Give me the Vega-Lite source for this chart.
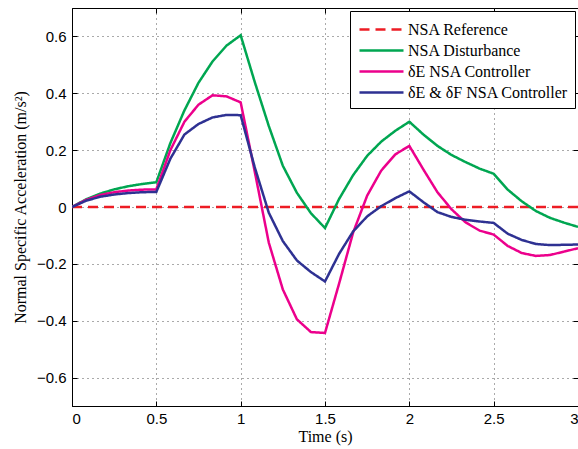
{
  "$schema": "https://vega.github.io/schema/vega-lite/v6.json",
  "width": 506,
  "height": 398,
  "autosize": {"type": "none"},
  "padding": {"left": 72, "top": 8, "right": 0, "bottom": 43},
  "background": "white",
  "config": {
    "view": {"stroke": "#000", "strokeWidth": 1},
    "axis": {
      "labelFont": "Liberation Sans", "labelFontSize": 15, "labelColor": "#000",
      "titleFont": "Liberation Serif", "titleFontSize": 16, "titleFontWeight": "normal", "titleColor": "#000",
      "domainColor": "#000", "tickColor": "#000",
      "gridColor": "#444", "gridDash": [1, 4], "gridWidth": 1, "gridOpacity": 0.9
    }
  },
  "datasets": {
    "lines": [
      {"t": 0, "v": 0, "s": "NSA Reference"},
      {"t": 3, "v": 0, "s": "NSA Reference"},
      {"t": 0, "v": 0, "s": "NSA Disturbance"},
      {"t": 0.0833, "v": 0.027, "s": "NSA Disturbance"},
      {"t": 0.1667, "v": 0.047, "s": "NSA Disturbance"},
      {"t": 0.25, "v": 0.062, "s": "NSA Disturbance"},
      {"t": 0.3333, "v": 0.073, "s": "NSA Disturbance"},
      {"t": 0.4167, "v": 0.081, "s": "NSA Disturbance"},
      {"t": 0.5, "v": 0.087, "s": "NSA Disturbance"},
      {"t": 0.5833, "v": 0.225, "s": "NSA Disturbance"},
      {"t": 0.6667, "v": 0.34, "s": "NSA Disturbance"},
      {"t": 0.75, "v": 0.437, "s": "NSA Disturbance"},
      {"t": 0.8333, "v": 0.512, "s": "NSA Disturbance"},
      {"t": 0.9167, "v": 0.568, "s": "NSA Disturbance"},
      {"t": 1.0, "v": 0.604, "s": "NSA Disturbance"},
      {"t": 1.0833, "v": 0.44, "s": "NSA Disturbance"},
      {"t": 1.1667, "v": 0.285, "s": "NSA Disturbance"},
      {"t": 1.25, "v": 0.145, "s": "NSA Disturbance"},
      {"t": 1.3333, "v": 0.05, "s": "NSA Disturbance"},
      {"t": 1.4167, "v": -0.022, "s": "NSA Disturbance"},
      {"t": 1.5, "v": -0.074, "s": "NSA Disturbance"},
      {"t": 1.5833, "v": 0.028, "s": "NSA Disturbance"},
      {"t": 1.6667, "v": 0.112, "s": "NSA Disturbance"},
      {"t": 1.75, "v": 0.18, "s": "NSA Disturbance"},
      {"t": 1.8333, "v": 0.23, "s": "NSA Disturbance"},
      {"t": 1.9167, "v": 0.268, "s": "NSA Disturbance"},
      {"t": 2.0, "v": 0.3, "s": "NSA Disturbance"},
      {"t": 2.0833, "v": 0.255, "s": "NSA Disturbance"},
      {"t": 2.1667, "v": 0.215, "s": "NSA Disturbance"},
      {"t": 2.25, "v": 0.183, "s": "NSA Disturbance"},
      {"t": 2.3333, "v": 0.158, "s": "NSA Disturbance"},
      {"t": 2.4167, "v": 0.135, "s": "NSA Disturbance"},
      {"t": 2.5, "v": 0.117, "s": "NSA Disturbance"},
      {"t": 2.5833, "v": 0.061, "s": "NSA Disturbance"},
      {"t": 2.6667, "v": 0.02, "s": "NSA Disturbance"},
      {"t": 2.75, "v": -0.014, "s": "NSA Disturbance"},
      {"t": 2.8333, "v": -0.038, "s": "NSA Disturbance"},
      {"t": 2.9167, "v": -0.055, "s": "NSA Disturbance"},
      {"t": 3.0, "v": -0.07, "s": "NSA Disturbance"},
      {"t": 0, "v": 0, "s": "δE NSA Controller"},
      {"t": 0.0833, "v": 0.025, "s": "δE NSA Controller"},
      {"t": 0.1667, "v": 0.042, "s": "δE NSA Controller"},
      {"t": 0.25, "v": 0.052, "s": "δE NSA Controller"},
      {"t": 0.3333, "v": 0.058, "s": "δE NSA Controller"},
      {"t": 0.4167, "v": 0.061, "s": "δE NSA Controller"},
      {"t": 0.5, "v": 0.062, "s": "δE NSA Controller"},
      {"t": 0.5833, "v": 0.2, "s": "δE NSA Controller"},
      {"t": 0.6667, "v": 0.3, "s": "δE NSA Controller"},
      {"t": 0.75, "v": 0.36, "s": "δE NSA Controller"},
      {"t": 0.8333, "v": 0.393, "s": "δE NSA Controller"},
      {"t": 0.9167, "v": 0.389, "s": "δE NSA Controller"},
      {"t": 1.0, "v": 0.368, "s": "δE NSA Controller"},
      {"t": 1.0833, "v": 0.125, "s": "δE NSA Controller"},
      {"t": 1.1667, "v": -0.125, "s": "δE NSA Controller"},
      {"t": 1.25, "v": -0.29, "s": "δE NSA Controller"},
      {"t": 1.3333, "v": -0.395, "s": "δE NSA Controller"},
      {"t": 1.4167, "v": -0.44, "s": "δE NSA Controller"},
      {"t": 1.5, "v": -0.443, "s": "δE NSA Controller"},
      {"t": 1.5833, "v": -0.27, "s": "δE NSA Controller"},
      {"t": 1.6667, "v": -0.09, "s": "δE NSA Controller"},
      {"t": 1.75, "v": 0.04, "s": "δE NSA Controller"},
      {"t": 1.8333, "v": 0.128, "s": "δE NSA Controller"},
      {"t": 1.9167, "v": 0.185, "s": "δE NSA Controller"},
      {"t": 2.0, "v": 0.215, "s": "δE NSA Controller"},
      {"t": 2.0833, "v": 0.132, "s": "δE NSA Controller"},
      {"t": 2.1667, "v": 0.052, "s": "δE NSA Controller"},
      {"t": 2.25, "v": -0.008, "s": "δE NSA Controller"},
      {"t": 2.3333, "v": -0.054, "s": "δE NSA Controller"},
      {"t": 2.4167, "v": -0.083, "s": "δE NSA Controller"},
      {"t": 2.5, "v": -0.097, "s": "δE NSA Controller"},
      {"t": 2.5833, "v": -0.137, "s": "δE NSA Controller"},
      {"t": 2.6667, "v": -0.162, "s": "δE NSA Controller"},
      {"t": 2.75, "v": -0.172, "s": "δE NSA Controller"},
      {"t": 2.8333, "v": -0.169, "s": "δE NSA Controller"},
      {"t": 2.9167, "v": -0.157, "s": "δE NSA Controller"},
      {"t": 3.0, "v": -0.145, "s": "δE NSA Controller"},
      {"t": 0, "v": 0, "s": "δE & δF NSA Controller"},
      {"t": 0.0833, "v": 0.022, "s": "δE & δF NSA Controller"},
      {"t": 0.1667, "v": 0.036, "s": "δE & δF NSA Controller"},
      {"t": 0.25, "v": 0.044, "s": "δE & δF NSA Controller"},
      {"t": 0.3333, "v": 0.049, "s": "δE & δF NSA Controller"},
      {"t": 0.4167, "v": 0.052, "s": "δE & δF NSA Controller"},
      {"t": 0.5, "v": 0.053, "s": "δE & δF NSA Controller"},
      {"t": 0.5833, "v": 0.17, "s": "δE & δF NSA Controller"},
      {"t": 0.6667, "v": 0.255, "s": "δE & δF NSA Controller"},
      {"t": 0.75, "v": 0.292, "s": "δE & δF NSA Controller"},
      {"t": 0.8333, "v": 0.315, "s": "δE & δF NSA Controller"},
      {"t": 0.9167, "v": 0.324, "s": "δE & δF NSA Controller"},
      {"t": 1.0, "v": 0.323, "s": "δE & δF NSA Controller"},
      {"t": 1.0833, "v": 0.14, "s": "δE & δF NSA Controller"},
      {"t": 1.1667, "v": -0.02, "s": "δE & δF NSA Controller"},
      {"t": 1.25, "v": -0.12, "s": "δE & δF NSA Controller"},
      {"t": 1.3333, "v": -0.188, "s": "δE & δF NSA Controller"},
      {"t": 1.4167, "v": -0.229, "s": "δE & δF NSA Controller"},
      {"t": 1.5, "v": -0.262, "s": "δE & δF NSA Controller"},
      {"t": 1.5833, "v": -0.165, "s": "δE & δF NSA Controller"},
      {"t": 1.6667, "v": -0.086, "s": "δE & δF NSA Controller"},
      {"t": 1.75, "v": -0.033, "s": "δE & δF NSA Controller"},
      {"t": 1.8333, "v": 0.003, "s": "δE & δF NSA Controller"},
      {"t": 1.9167, "v": 0.031, "s": "δE & δF NSA Controller"},
      {"t": 2.0, "v": 0.055, "s": "δE & δF NSA Controller"},
      {"t": 2.0833, "v": 0.017, "s": "δE & δF NSA Controller"},
      {"t": 2.1667, "v": -0.018, "s": "δE & δF NSA Controller"},
      {"t": 2.25, "v": -0.035, "s": "δE & δF NSA Controller"},
      {"t": 2.3333, "v": -0.045, "s": "δE & δF NSA Controller"},
      {"t": 2.4167, "v": -0.051, "s": "δE & δF NSA Controller"},
      {"t": 2.5, "v": -0.056, "s": "δE & δF NSA Controller"},
      {"t": 2.5833, "v": -0.094, "s": "δE & δF NSA Controller"},
      {"t": 2.6667, "v": -0.116, "s": "δE & δF NSA Controller"},
      {"t": 2.75, "v": -0.13, "s": "δE & δF NSA Controller"},
      {"t": 2.8333, "v": -0.134, "s": "δE & δF NSA Controller"},
      {"t": 2.9167, "v": -0.133, "s": "δE & δF NSA Controller"},
      {"t": 3.0, "v": -0.132, "s": "δE & δF NSA Controller"}
    ]
  },
  "data": {"name": "lines"},
  "layer": [
    {
      "mark": {"type": "line", "strokeWidth": 2.5, "clip": true},
      "encoding": {
        "x": {
          "field": "t", "type": "quantitative",
          "scale": {"domain": [0, 3], "nice": false, "zero": false},
          "axis": {"title": "Time (s)", "values": [0, 0.5, 1, 1.5, 2, 2.5, 3], "format": "~g",
                   "tickSize": -5, "labelPadding": 10, "titlePadding": 2, "grid": true}
        },
        "y": {
          "field": "v", "type": "quantitative",
          "scale": {"domain": [-0.7, 0.7], "nice": false, "zero": false},
          "axis": {"title": "Normal Specific Acceleration (m/s²)", "values": [-0.6, -0.4, -0.2, 0, 0.2, 0.4, 0.6], "format": "~g",
                   "tickSize": -5, "labelPadding": 11, "titlePadding": 8, "grid": true}
        },
        "color": {
          "field": "s", "type": "nominal",
          "scale": {
            "domain": ["NSA Reference", "NSA Disturbance", "δE NSA Controller", "δE & δF NSA Controller"],
            "range": ["#ed1c24", "#00a651", "#ec008c", "#2e3192"]
          },
          "legend": {
            "title": null, "orient": "top-right", "offset": 3,
            "fillColor": "white", "strokeColor": "#000", "padding": 7,
            "symbolType": "M-2.2,0H2.2", "symbolSize": 400, "symbolStrokeWidth": 2.5, "symbolOffset": 13,
            "rowPadding": 1, "labelOffset": 15,
            "labelFont": "Liberation Serif", "labelFontSize": 16, "labelColor": "#000"
          }
        },
        "strokeDash": {
          "field": "s", "type": "nominal",
          "scale": {
            "domain": ["NSA Reference", "NSA Disturbance", "δE NSA Controller", "δE & δF NSA Controller"],
            "range": [[10, 6], [1, 0], [1, 0], [1, 0]]
          },
          "legend": null
        },
        "order": {"field": "t", "type": "quantitative"}
      }
    },
    {
      "mark": {"type": "rule", "opacity": 0},
      "encoding": {
        "x": {
          "field": "t", "type": "quantitative",
          "axis": {"orient": "top", "title": null, "labels": false, "values": [0, 0.5, 1, 1.5, 2, 2.5, 3], "tickSize": -5, "grid": false, "domain": false}
        },
        "y": {
          "field": "v", "type": "quantitative",
          "axis": {"orient": "right", "title": null, "labels": false, "values": [-0.6, -0.4, -0.2, 0, 0.2, 0.4, 0.6], "tickSize": -5, "grid": false, "domain": false}
        }
      }
    }
  ],
  "resolve": {"axis": {"x": "independent", "y": "independent"}}
}
